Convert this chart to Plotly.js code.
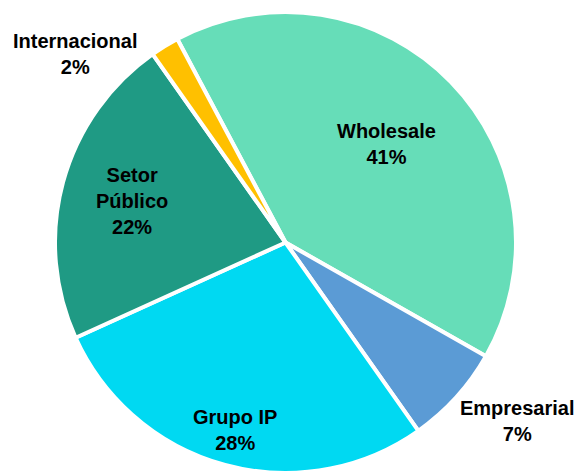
<!DOCTYPE html>
<html>
<head>
<meta charset="utf-8">
<script src="https://cdn.plot.ly/plotly-3.0.1.min.js"></script>
<style>
  body { margin: 0; background: #fff; }
  #chart { width: 582px; height: 473px; }
</style>
</head>
<body>
<div id="chart"></div>
<script>
// segment names and their share of the total (%)
let segments = ["Wholesale", "Empresarial", "Grupo IP", "Setor<br>Público", "Internacional"]
let shares = [41, 7, 28, 22, 2]
let sliceColors = ["#66DDB8", "#5B9BD5", "#00D9F2", "#1F9A84", "#FFC000"]

// where each label sits: fraction of the radius, and a nudge off the slice's middle (deg)
let labelRadius = [0.614, 1.27, 0.842, 0.69, 1.226]
let labelShift = [0, -4.7, 0, 0, -16.6]

const W = 582, H = 473
const cx = 285.5, cy = 242.5, R = 230.5
const startAngle = -28

let pieTrace = {
    type: "pie",
    labels: segments,
    values: shares,
    sort: false,
    direction: "clockwise",
    rotation: startAngle,
    marker: {
        colors: sliceColors,
        line: { color: "#ffffff", width: 4 }
    },
    textinfo: "none",
    hoverinfo: "label+percent",
    domain: { x: [(cx - R) / W, (cx + R) / W], y: [0, 2 * R / H] }
}

// labels go at the middle angle of each slice, worked out from the shares
let total = shares.reduce((a, b) => a + b, 0)
let annotations = []
let angle = startAngle
for (let i = 0; i < shares.length; i++)
{
    let sweep = shares[i] / total * 360
    let mid = (angle + sweep / 2 + labelShift[i]) * Math.PI / 180
    let px = cx + labelRadius[i] * R * Math.sin(mid)
    let py = cy - labelRadius[i] * R * Math.cos(mid)
    annotations.push({
        x: px / W,
        y: 1 - py / H,
        xref: "paper",
        yref: "paper",
        xanchor: "center",
        yanchor: "middle",
        showarrow: false,
        text: segments[i] + "<br>" + Math.round(shares[i] / total * 100) + "%",
        font: { family: "Liberation Sans, Arial, sans-serif", size: 20, color: "#000000", weight: "bold" }
    })
    angle += sweep
}

let layout = {
    width: W,
    height: H,
    showlegend: false,
    margin: { l: 0, r: 0, t: 0, b: 0 },
    paper_bgcolor: "#ffffff",
    annotations: annotations
}

Plotly.newPlot("chart", [pieTrace], layout, { displayModeBar: false })
</script>
</body>
</html>
